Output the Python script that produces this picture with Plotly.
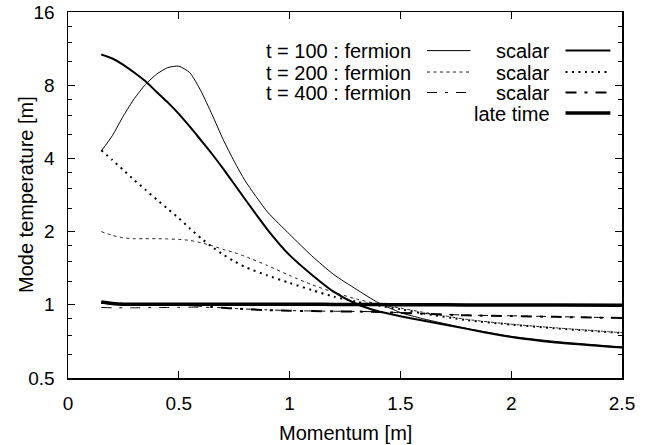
import plotly.graph_objects as go

# ---------------- data ----------------
momentum = [0.15, 0.2, 0.25, 0.3, 0.35, 0.4, 0.45, 0.5, 0.55, 0.6, 0.65, 0.7, 0.75,
            0.8, 0.9, 1.0, 1.1, 1.2, 1.3, 1.4, 1.5, 1.6, 1.8, 2.0, 2.2, 2.5]

fermion_t100 = [4.29, 4.96, 5.98, 7.06, 8.06, 8.88, 9.45, 9.58, 9.0, 7.57, 6.06, 4.79, 3.89,
                3.23, 2.41, 1.95, 1.59, 1.33, 1.16, 1.02, 0.93, 0.877, 0.80, 0.742, 0.707, 0.671]
scalar_t100 = [10.7, 10.3, 9.7, 9.0, 8.3, 7.5, 6.8, 6.1, 5.4, 4.75, 4.17, 3.63, 3.14,
               2.71, 2.04, 1.60, 1.33, 1.13, 1.01, 0.94, 0.898, 0.861, 0.796, 0.737, 0.70, 0.667]

fermion_t200 = [2.0, 1.93, 1.885, 1.87, 1.87, 1.87, 1.866, 1.857, 1.84, 1.80, 1.75, 1.69, 1.64,
                1.58, 1.45, 1.32, 1.21, 1.125, 1.057, 1.007, 0.969, 0.933, 0.871, 0.832, 0.804, 0.768]
scalar_t200 = [4.32, 3.94, 3.58, 3.25, 2.97, 2.71, 2.48, 2.27, 2.06, 1.88, 1.73, 1.61, 1.51,
               1.43, 1.32, 1.23, 1.15, 1.08, 1.03, 0.993, 0.959, 0.923, 0.865, 0.829, 0.80, 0.766]

fermion_t400 = [0.975, 0.972, 0.972, 0.972, 0.973, 0.974, 0.975, 0.976, 0.978, 0.978, 0.976, 0.972, 0.966,
                0.961, 0.953, 0.947, 0.943, 0.941, 0.939, 0.936, 0.928, 0.921, 0.907, 0.901, 0.894, 0.884]
scalar_t400 = [1.02, 1.012, 1.008, 1.006, 1.006, 1.006, 1.005, 1.004, 1.0, 0.99, 0.98, 0.972, 0.966,
               0.96, 0.951, 0.946, 0.942, 0.940, 0.938, 0.935, 0.926, 0.919, 0.905, 0.899, 0.892, 0.882]

late_time = [1.027, 1.012, 1.005, 1.005, 1.006, 1.006, 1.006, 1.006, 1.006, 1.006, 1.006, 1.006, 1.006,
             1.006, 1.005, 1.005, 1.005, 1.004, 1.003, 1.002, 1.001, 1.0, 0.999, 0.998, 0.997, 0.995]

x_ticks = [0, 0.5, 1, 1.5, 2, 2.5]
x_tick_labels = ["0", "0.5", "1", "1.5", "2", "2.5"]
y_ticks = [0.5, 1, 2, 4, 8, 16]
y_tick_labels = ["0.5", "1", "2", "4", "8", "16"]

x_title = "Momentum [m]"
y_title = "Mode temperature [m]"
legend_rows = ["t = 100 : fermion", "t = 200 : fermion", "t = 400 : fermion"]
scalar_label = "scalar"
late_label = "late time"

# ---------------- styles ----------------
FONT = "Liberation Sans, Arial, Helvetica, sans-serif"
style_f100 = dict(color="black", width=1)
style_s100 = dict(color="black", width=2)
style_f200 = dict(color="#222", width=1, dash="3px,3.5px")
style_s200 = dict(color="black", width=2, dash="2px,4.5px")
style_f400 = dict(color="black", width=1, dash="10px,8px,3px,8px")
style_s400 = dict(color="black", width=2, dash="11px,8px,3px,8px")
style_late = dict(color="black", width=3.5)

series = [
    (fermion_t100, style_f100), (scalar_t100, style_s100),
    (fermion_t200, style_f200), (scalar_t200, style_s200),
    (fermion_t400, style_f400), (scalar_t400, style_s400),
    (late_time, style_late),
]

fig = go.Figure()
for vals, st in series:
    fig.add_trace(go.Scatter(x=momentum, y=vals, mode="lines",
                             line=dict(shape="spline", smoothing=0.6, **st),
                             showlegend=False, hoverinfo="skip"))

# ---------------- manual gnuplot-style key ----------------
row_y = [0.8945, 0.836, 0.780]
late_y = 0.724
text_right_1 = 0.623
sample1 = (0.648, 0.7265)
text_right_2 = 0.874
sample2 = (0.898, 0.979)
fermion_styles = [style_f100, style_f200, style_f400]
scalar_styles = [style_s100, style_s200, style_s400]
KEY_FONT = dict(family=FONT, size=20, color="black")

annotations = []
shapes = []
for i, lab in enumerate(legend_rows):
    y = row_y[i]
    annotations.append(dict(x=text_right_1, y=y, xref="paper", yref="paper", text=lab, height=19,
                            showarrow=False, xanchor="right", yanchor="middle", font=KEY_FONT))
    annotations.append(dict(x=text_right_2, y=y, xref="paper", yref="paper", text=scalar_label, height=19,
                            showarrow=False, xanchor="right", yanchor="middle", font=KEY_FONT))
    shapes.append(dict(type="line", xref="paper", yref="paper", x0=sample1[0], x1=sample1[1],
                       y0=y, y1=y, line=fermion_styles[i]))
    shapes.append(dict(type="line", xref="paper", yref="paper", x0=sample2[0], x1=sample2[1],
                       y0=y, y1=y, line=scalar_styles[i]))
annotations.append(dict(x=text_right_2, y=late_y, xref="paper", yref="paper", text=late_label, height=19,
                        showarrow=False, xanchor="right", yanchor="middle", font=KEY_FONT))
shapes.append(dict(type="line", xref="paper", yref="paper", x0=sample2[0], x1=sample2[1],
                   y0=late_y, y1=late_y, line=style_late))

# axis titles as annotations (gnuplot-like placement)
TITLE_FONT = dict(family=FONT, size=20, color="black")
annotations.append(dict(x=0.5, y=-0.149, xref="paper", yref="paper", text=x_title,
                        showarrow=False, xanchor="center", yanchor="middle", font=TITLE_FONT))
annotations.append(dict(x=-0.0758, y=0.5, xref="paper", yref="paper", text=y_title, textangle=-90,
                        showarrow=False, xanchor="center", yanchor="middle", font=TITLE_FONT))

minor_y = []
for v in y_ticks[:-1]:
    minor_y += [v * 1.25, v * 1.5, v * 1.75]

fig.update_layout(
    width=654, height=445,
    margin=dict(l=68, r=32, t=12, b=67),
    paper_bgcolor="white", plot_bgcolor="white",
    font=dict(family=FONT, size=19, color="black"),
    annotations=annotations, shapes=shapes,
)
fig.update_xaxes(
    range=[0, 2.5], tickmode="array", tickvals=x_ticks, ticktext=x_tick_labels,
    ticks="inside", ticklen=7, tickwidth=1, tickcolor="black",
    showline=True, linecolor="black", linewidth=1.5, mirror="allticks",
    showgrid=False, zeroline=False, automargin=False,
    tickfont=dict(size=19), ticklabelstandoff=8, ticklabeloverflow="allow",
)
fig.update_yaxes(
    type="log", range=[-0.30103, 1.20412], tickmode="array", tickvals=y_ticks, ticktext=y_tick_labels,
    ticks="inside", ticklen=7, tickwidth=1, tickcolor="black",
    minor=dict(tickmode="array", tickvals=minor_y, ticks="inside", ticklen=4, tickcolor="black", showgrid=False),
    showline=True, linecolor="black", linewidth=1.5, mirror="allticks",
    showgrid=False, zeroline=False, automargin=False,
    tickfont=dict(size=19), ticklabelstandoff=8, ticklabeloverflow="allow",
)

# remove the default page margin so the figure fills the window from its top-left corner
fig.write_html("out.html", config={"displayModeBar": False, "staticPlot": True},
               post_script="document.body.style.margin='0';")
